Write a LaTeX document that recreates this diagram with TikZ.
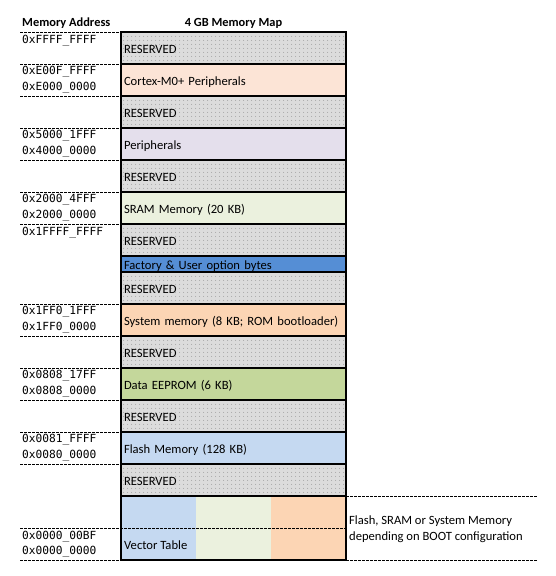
\documentclass[tikz,border=0pt]{standalone}
\usepackage{fontspec}
\setmainfont{Carlito}
\setmonofont{DejaVu Sans Mono}
\usetikzlibrary{patterns.meta}

\definecolor{resfill}{HTML}{DCDCDC}
\definecolor{dotgray}{HTML}{8C8C8C}
\definecolor{cortexc}{HTML}{FCE4D6}
\definecolor{periphc}{HTML}{E4DFEC}
\definecolor{sramc}{HTML}{EBF1DE}
\definecolor{optc}{HTML}{558ED5}
\definecolor{sysc}{HTML}{FCD5B4}
\definecolor{eepromc}{HTML}{C4D79B}
\definecolor{flashc}{HTML}{C5D9F1}

\tikzset{
  blk/.style={anchor=north west, inner xsep=3, inner ysep=0, outer sep=0,
    text width=219, align=left, minimum height=32,
    text height=11, text depth=1,
    font=\fontsize{12.6}{14}\selectfont},
  res/.style={fill=resfill,
    postaction={pattern={Dots[radius=0.55pt,distance=4pt]}, pattern color=dotgray}},
  border/.style={line width=2.2pt, draw=black},
  sep/.style={line width=0.8pt, dash pattern=on 2.5pt off 1.5pt},
  addr/.style={anchor=west, inner sep=2, font=\ttfamily\fontsize{11.2}{13}\selectfont},
  head/.style={font=\bfseries\fontsize{12.4}{14}\selectfont, inner sep=2},
  note/.style={anchor=west, inner sep=2, align=left,
    font=\fontsize{12.6}{16}\selectfont},
}

\begin{document}
\begin{tikzpicture}[x=1pt, y=-1pt]
\useasboundingbox (0,0) rectangle (556,576);

% column headings
\node[head, anchor=west] (hAddr) at (20,23) {Memory Address};
\node[head] (hMap) at (233.5,23) {4 GB Memory Map};

% memory regions, top to bottom
\node[blk, res] (r1) at (121,32) {RESERVED};
\node[blk, fill=cortexc] (cortex) at (121,64) {Cortex-M0+ Peripherals};
\node[blk, res] (r2) at (121,96) {RESERVED};
\node[blk, fill=periphc] (periph) at (121,128) {Peripherals};
\node[blk, res] (r3) at (121,160) {RESERVED};
\node[blk, fill=sramc] (sram) at (121,192) {SRAM Memory (20 KB)};
\node[blk, res] (r4) at (121,224) {RESERVED};
\node[blk, fill=optc, minimum height=16] (opt) at (121,256) {Factory \& User option bytes};
\node[blk, res, minimum height=32] (r5) at (121,272) {RESERVED};
\node[blk, fill=sysc] (sys) at (121,304) {System memory (8 KB; ROM bootloader)};
\node[blk, res] (r6) at (121,336) {RESERVED};
\node[blk, fill=eepromc] (eeprom) at (121,368) {Data EEPROM (6 KB)};
\node[blk, res] (r7) at (121,400) {RESERVED};
\node[blk, fill=flashc] (flash) at (121,432) {Flash Memory (128 KB)};
\node[blk, res] (r8) at (121,464) {RESERVED};

% boot-aliased area at address 0
\node[anchor=north west, fill=flashc, minimum width=75, minimum height=64, inner sep=0, outer sep=0] (vtb) at (121,496) {};
\node[anchor=north west, fill=sramc, minimum width=75, minimum height=64, inner sep=0, outer sep=0] (vtg) at (196,496) {};
\node[anchor=north west, fill=sysc, minimum width=75, minimum height=64, inner sep=0, outer sep=0] (vto) at (271,496) {};
\node[anchor=west, inner sep=2, text height=11, text depth=1, font=\fontsize{12.6}{14}\selectfont] (vtlabel) at (122,544) {Vector Table};

% region outlines
\foreach \n in {r1,cortex,r2,periph,r3,sram,r4,opt,r5,sys,r6,eeprom,r7,flash,r8}
  \draw[border] (\n.north west) rectangle (\n.south east);
\draw[border] (vtb.north west) rectangle (vto.south east);

% address boundary guides
\foreach \y in {32,64,96,128,160,192,224,304,336,368,400,432,464,560}
  \draw[sep] (20,\y) -- (121,\y);
\draw[sep] (20,528) -- (346,528);
\draw[sep] (346,496) -- (537,496);
\draw[sep] (346,560) -- (537,560);

% addresses
\node[addr] (a1) at (20,41) {0xFFFF\_FFFF};
\node[addr] (a2) at (20,72) {0xE00F\_FFFF};
\node[addr] (a3) at (20,88) {0xE000\_0000};
\node[addr] (a4) at (20,136) {0x5000\_1FFF};
\node[addr] (a5) at (20,152) {0x4000\_0000};
\node[addr] (a6) at (20,200) {0x2000\_4FFF};
\node[addr] (a7) at (20,216) {0x2000\_0000};
\node[addr] (a8) at (20,233) {0x1FFFF\_FFFF};
\node[addr] (a9) at (20,312) {0x1FF0\_1FFF};
\node[addr] (a10) at (20,328) {0x1FF0\_0000};
\node[addr] (a11) at (20,376) {0x0808\_17FF};
\node[addr] (a12) at (20,392) {0x0808\_0000};
\node[addr] (a13) at (20,440) {0x0081\_FFFF};
\node[addr] (a14) at (20,456) {0x0080\_0000};
\node[addr] (a15) at (20,537) {0x0000\_00BF};
\node[addr] (a16) at (20,552) {0x0000\_0000};

% boot note
\node[note] (bootnote) at (347,529) {Flash, SRAM or System Memory\\depending on BOOT configuration};
\end{tikzpicture}
\end{document}
